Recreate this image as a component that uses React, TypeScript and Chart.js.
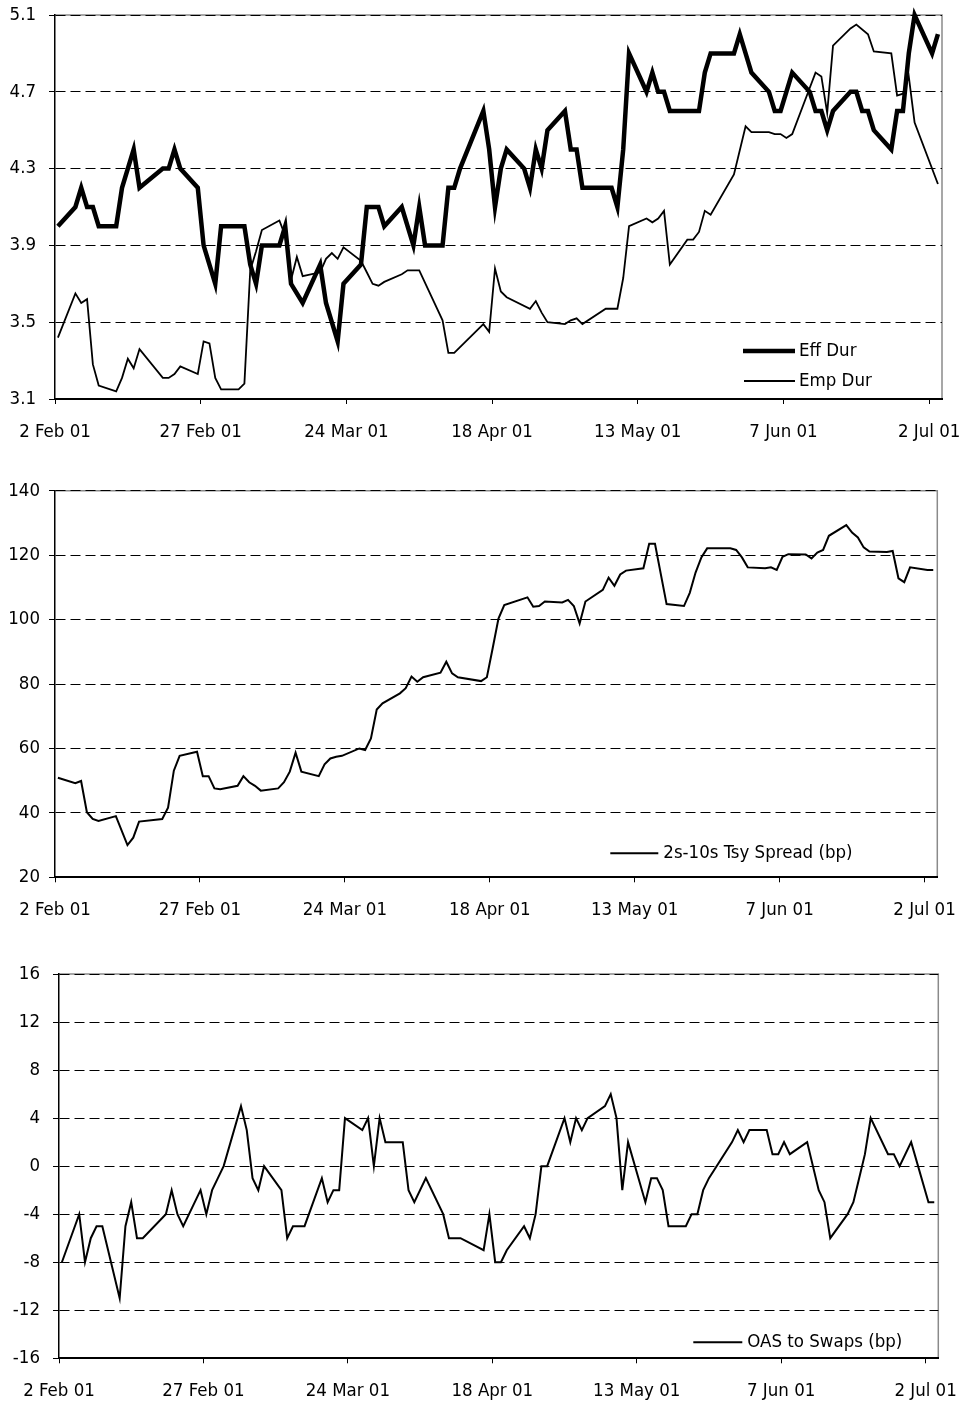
import { useEffect, useRef } from "react";
import { Chart, registerables } from "chart.js";

Chart.register(...registerables);

const FONT_FAMILY = "'DejaVu Sans Condensed', 'Liberation Sans Narrow', 'Arial Narrow', sans-serif";
const FONT_SIZE = 18.5;

// x axis: days since 2 Feb 2001
const tickDays = [0, 25, 50, 75, 100, 125, 150];
const tickLabels = ["2 Feb 01", "27 Feb 01", "24 Mar 01", "18 Apr 01", "13 May 01", "7 Jun 01", "2 Jul 01"];

const effDurDays = [0,3,4,5,6,7,10,11,13,14,18,19,20,21,24,25,26,27,28,32,33,34,35,38,39,40,42,45,46,47,48,49,52,53,55,56,59,61,62,63,66,67,68,69,73,74,75,76,77,80,81,82,83,84,87,88,89,90,95,96,97,98,101,102,103,104,105,110,111,112,116,117,119,122,123,124,126,129,130,131,132,133,136,137,138,139,140,143,144,145,146,147,150,151];
const effDur = [4.0,4.1,4.2,4.1,4.1,4.0,4.0,4.2,4.4,4.2,4.3,4.3,4.4,4.3,4.2,3.9,3.8,3.7,4.0,4.0,3.8,3.7,3.9,3.9,4.0,3.7,3.6,3.8,3.6,3.5,3.4,3.7,3.8,4.1,4.1,4.0,4.1,3.9,4.1,3.9,3.9,4.2,4.2,4.3,4.6,4.4,4.1,4.3,4.4,4.3,4.2,4.4,4.3,4.5,4.6,4.4,4.4,4.2,4.2,4.1,4.4,4.9,4.7,4.8,4.7,4.7,4.6,4.6,4.8,4.9,4.9,5.0,4.8,4.7,4.6,4.6,4.8,4.7,4.6,4.6,4.5,4.6,4.7,4.7,4.6,4.6,4.5,4.4,4.6,4.6,4.9,5.1,4.9,5.0];

const empDurDays = [0,3,4,5,6,7,10,11,12,13,14,18,19,20,21,24,25,26,27,28,31,32,33,34,35,38,39,40,41,42,45,46,47,48,49,52,53,54,55,56,59,60,62,66,67,68,73,74,75,76,77,81,82,83,84,87,88,89,90,94,96,97,98,101,102,103,104,105,108,109,110,111,112,116,118,119,122,123,124,125,126,129,130,131,132,133,136,137,139,140,143,144,145,146,147,151];
const empDur = [3.42,3.65,3.60,3.62,3.28,3.17,3.14,3.21,3.31,3.26,3.36,3.21,3.21,3.23,3.27,3.23,3.40,3.39,3.21,3.15,3.15,3.18,3.77,3.87,3.98,4.03,3.95,3.72,3.84,3.74,3.76,3.83,3.86,3.83,3.89,3.82,3.76,3.70,3.69,3.71,3.75,3.77,3.77,3.51,3.34,3.34,3.49,3.45,3.78,3.66,3.63,3.57,3.61,3.55,3.50,3.49,3.51,3.52,3.49,3.57,3.57,3.73,4.00,4.04,4.02,4.04,4.08,3.80,3.93,3.93,3.97,4.08,4.06,4.27,4.52,4.49,4.49,4.48,4.48,4.46,4.48,4.72,4.80,4.78,4.59,4.94,5.03,5.05,5.00,4.91,4.90,4.68,4.69,4.78,4.54,4.22];

const spreadDays = [0,3,4,5,6,7,10,12,13,14,18,19,20,21,24,25,26,27,28,31,32,33,34,35,38,39,40,41,42,45,46,47,48,49,52,53,54,55,56,59,60,61,62,63,66,67,68,69,73,74,75,76,77,81,82,83,84,87,88,89,90,91,94,95,96,97,98,101,102,103,105,108,109,110,111,112,116,117,118,119,122,123,124,125,126,129,130,131,132,133,136,137,138,139,140,143,144,145,146,147,150,151];
const spread = [50.9,49.2,49.9,40.2,38.1,37.5,39.0,30.0,32.3,37.3,38.1,41.6,53.1,57.7,59.0,51.4,51.4,47.6,47.3,48.4,51.4,49.5,48.4,46.9,47.6,49.5,52.8,58.7,52.8,51.4,55.1,56.9,57.4,57.7,60.0,59.5,63.1,72.1,74.0,77.1,78.7,82.3,80.7,82.1,83.5,86.9,83.3,82.1,80.9,82.1,91.1,100.3,104.5,106.9,104.0,104.2,105.6,105.3,106.1,104.2,98.8,105.6,109.2,113.0,110.5,114.0,115.2,115.9,123.5,123.5,104.8,104.2,108.3,114.6,119.3,122.1,122.1,121.6,119.3,116.2,115.9,116.2,115.4,119.5,120.3,120.2,119.0,120.8,121.6,126.0,129.3,127.0,125.5,122.4,121.1,121.0,121.3,112.8,111.6,116.2,115.4,115.4];

const oasDays = [0,3,4,5,6,7,10,11,12,13,14,18,19,20,21,24,25,26,27,28,31,32,33,34,35,38,39,40,41,42,45,46,47,48,49,52,53,54,55,56,59,60,61,63,66,67,69,73,74,75,76,77,80,81,82,83,84,87,88,89,90,91,94,95,96,97,98,101,102,103,104,105,108,109,110,111,112,116,117,118,119,122,123,124,125,126,129,131,132,133,136,137,138,139,140,143,144,145,147,150,151];
const oas = [-8,-4,-8,-6,-5,-5,-11,-5,-3,-6,-6,-4,-2,-4,-5,-2,-4,-2,-1,0,5,3,-1,-2,0,-2,-6,-5,-5,-5,-1,-3,-2,-2,4,3,4,0,4,2,2,-2,-3,-1,-4,-6,-6,-7,-4,-8,-8,-7,-5,-6,-4,0,0,4,2,4,3,4,5,6,4,-2,2,-3,-1,-1,-2,-5,-5,-4,-4,-2,-1,2,3,2,3,3,1,1,2,1,2,-2,-3,-6,-4,-3,-1,1,4,1,1,0,2,-3,-3];

const durTicks = [3.1, 3.5, 3.9, 4.3, 4.7, 5.1];
const spreadTicks = [20, 40, 60, 80, 100, 120, 140];
const oasTicks = [-16, -12, -8, -4, 0, 4, 8, 12, 16];

const X_MIN = -0.5;
const X_MAX = 151.7;

type Series = { label: string; days: number[]; values: number[]; width: number; legend: { dx: number; dy: number; len: number; gap: number } };
type Spec = {
  top: number; height: number; yWidth: number; padTop: number; padRight: number; xHeight: number; yPad: number;
  yTicks: number[]; yFmt: (v: number) => string; series: Series[];
};

const toPoints = (days: number[], vals: number[]) => days.map((d, i) => ({ x: d, y: vals[i] }));

const specs: Spec[] = [
  {
    top: 0, height: 455, yWidth: 55, padTop: 15, padRight: 32, xHeight: 56, yPad: 13,
    yTicks: durTicks, yFmt: (v) => v.toFixed(1),
    series: [
      { label: "Eff Dur", days: effDurDays, values: effDur, width: 4.5, legend: { dx: 199, dy: 48, len: 52, gap: 4 } },
      { label: "Emp Dur", days: empDurDays, values: empDur, width: 1.8, legend: { dx: 198, dy: 18, len: 51, gap: 4 } },
    ],
  },
  {
    top: 455, height: 470, yWidth: 55, padTop: 35.7, padRight: 36.7, xHeight: 47.7, yPad: 9,
    yTicks: spreadTicks, yFmt: (v) => String(v),
    series: [
      { label: "2s-10s Tsy Spread (bp)", days: spreadDays, values: spread, width: 2, legend: { dx: 327, dy: 24, len: 48, gap: 5 } },
    ],
  },
  {
    top: 925, height: 481, yWidth: 59, padTop: 49, padRight: 35.7, xHeight: 47.7, yPad: 13,
    yTicks: oasTicks, yFmt: (v) => String(v),
    series: [
      { label: "OAS to Swaps (bp)", days: oasDays, values: oas, width: 2, legend: { dx: 245, dy: 16, len: 49, gap: 5 } },
    ],
  },
];

function buildConfig(spec: Spec): any {
  const framePlugin = {
    id: "frame",
    beforeDraw(chart: any) {
      const { ctx, chartArea: a } = chart;
      ctx.save();
      ctx.strokeStyle = "#8a8a8a";
      ctx.lineWidth = 1.5;
      ctx.beginPath();
      ctx.moveTo(a.left, a.top);
      ctx.lineTo(a.right, a.top);
      ctx.lineTo(a.right, a.bottom);
      ctx.stroke();
      ctx.restore();
    },
  };
  const legendPlugin = {
    id: "legendLines",
    afterDraw(chart: any) {
      const { ctx, chartArea: a } = chart;
      ctx.save();
      spec.series.forEach((s) => {
        const x0 = a.right - s.legend.dx;
        const y = a.bottom - s.legend.dy;
        ctx.strokeStyle = "#000";
        ctx.lineWidth = s.width;
        ctx.lineCap = "butt";
        ctx.beginPath();
        ctx.moveTo(x0, y);
        ctx.lineTo(x0 + s.legend.len, y);
        ctx.stroke();
        ctx.fillStyle = "#000";
        ctx.font = `${FONT_SIZE}px ${FONT_FAMILY}`;
        ctx.textAlign = "left";
        ctx.textBaseline = "middle";
        ctx.fillText(s.label, x0 + s.legend.len + s.legend.gap, y);
      });
      ctx.restore();
    },
  };
  const yMin = spec.yTicks[0];
  const yMax = spec.yTicks[spec.yTicks.length - 1];
  return {
    type: "line",
    data: {
      datasets: spec.series.map((s) => ({
        label: s.label,
        data: toPoints(s.days, s.values),
        borderColor: "#000",
        backgroundColor: "#000",
        borderWidth: s.width,
        pointRadius: 0,
        tension: 0,
        fill: false,
        borderJoinStyle: "miter",
        clip: false,
      })),
    },
    options: {
      responsive: false,
      animation: false,
      events: [],
      layout: { padding: { left: 0, top: spec.padTop, right: spec.padRight, bottom: 0 } },
      plugins: { legend: { display: false }, tooltip: { enabled: false } },
      scales: {
        x: {
          type: "linear",
          min: X_MIN,
          max: X_MAX,
          afterBuildTicks: (s: any) => {
            s.ticks = tickDays.map((d) => ({ value: d - 0.5 }));
          },
          afterFit: (s: any) => {
            s.height = spec.xHeight;
            s.paddingLeft = 0;
            s.paddingRight = 0;
          },
          ticks: {
            autoSkip: false,
            maxRotation: 0,
            minRotation: 0,
            padding: 17,
            color: "#000",
            font: { family: FONT_FAMILY, size: FONT_SIZE },
            callback: (_v: any, i: number) => tickLabels[i],
          },
          grid: { drawOnChartArea: false, drawTicks: true, tickLength: 5, color: "#000", lineWidth: 1 },
          border: { display: true, color: "#000", width: 2 },
        },
        y: {
          type: "linear",
          min: yMin,
          max: yMax,
          afterBuildTicks: (s: any) => {
            s.ticks = spec.yTicks.map((v) => ({ value: v }));
          },
          afterFit: (s: any) => {
            s.width = spec.yWidth;
            s.paddingTop = 0;
            s.paddingBottom = 0;
          },
          ticks: {
            padding: spec.yPad,
            color: "#000",
            font: { family: FONT_FAMILY, size: FONT_SIZE },
            callback: (v: any) => spec.yFmt(Number(v)),
          },
          grid: { color: "#000", lineWidth: 1, tickLength: 6, tickColor: "#000", tickBorderDash: [] },
          border: { display: true, color: "#000", width: 1.5, dash: [10, 5] },
        },
      },
    },
    plugins: [framePlugin, legendPlugin],
  };
}

export default function App() {
  const refs = [useRef<HTMLCanvasElement>(null), useRef<HTMLCanvasElement>(null), useRef<HTMLCanvasElement>(null)];

  useEffect(() => {
    const charts = specs.map((spec, i) => new Chart(refs[i].current as HTMLCanvasElement, buildConfig(spec)));
    return () => charts.forEach((c) => c.destroy());
  }, []);

  return (
    <div style={{ position: "absolute", left: 0, top: 0, width: 974, height: 1406, background: "#fff" }}>
      {specs.map((spec, i) => (
        <canvas
          key={i}
          ref={refs[i]}
          width={974}
          height={spec.height}
          style={{ position: "absolute", left: 0, top: spec.top, width: 974, height: spec.height, display: "block" }}
        />
      ))}
    </div>
  );
}
